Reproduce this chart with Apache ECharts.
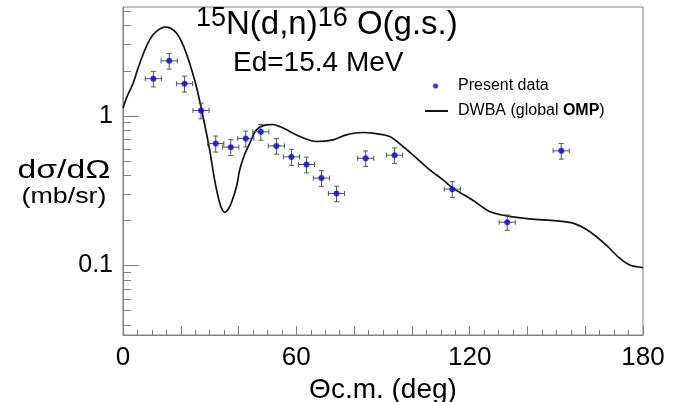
<!DOCTYPE html>
<html>
<head>
<meta charset="utf-8">
<script src="https://cdn.jsdelivr.net/npm/echarts@6/dist/echarts.min.js"></script>
<style>
  html, body { margin: 0; padding: 0; background: #fff; }
  #chart { width: 689px; height: 402px; }
</style>
</head>
<body>
<div id="chart"></div>
<script>
// Measured angular distribution, 15N(d,n)16O ground state, Ed = 15.4 MeV
const angles       = [10.5, 16.0, 21.3, 27.0, 32.1, 37.3, 42.5, 47.7, 53.1, 58.3, 63.5, 68.7, 73.9, 84.0, 94.0, 114.0, 133.0, 151.7];
const crossSection = [1.77, 2.33, 1.64, 1.085, 0.653, 0.618, 0.705, 0.782, 0.630, 0.532, 0.473, 0.384, 0.303, 0.521, 0.546, 0.324, 0.195, 0.584];
const angleErr     = [2.8, 2.8, 2.8, 2.8, 2.8, 2.8, 2.8, 2.8, 2.8, 2.8, 2.8, 2.8, 2.8, 2.8, 2.8, 2.8, 2.8, 2.8];
const sigmaErr     = [0.21, 0.28, 0.20, 0.13, 0.080, 0.075, 0.085, 0.095, 0.075, 0.065, 0.057, 0.046, 0.036, 0.062, 0.065, 0.039, 0.023, 0.070];

// DWBA calculation with a global optical-model potential
const dwbaAngles = [0, 1.5, 3.5, 5.2, 6.9, 8.6, 10.4, 12.5, 14.5, 16.5, 18.5, 20.2, 21.9, 23.7, 25.4, 27.7, 30.0, 31.7, 33.5, 34.6, 35.4, 36.3, 37.5, 39.3, 40.4, 42.0, 43.9, 46.2, 49.6, 51.9, 54.5, 56.6, 61.2, 66.9, 72.7, 77.3, 83.1, 86.5, 92.3, 96.9, 101.6, 106.2, 110.8, 114.2, 121.2, 126.9, 132.7, 140.8, 150.0, 155.8, 161.5, 167.3, 171.9, 175.4, 180.0];
const dwbaValues = [1.13, 1.36, 1.65, 2.08, 2.56, 3.05, 3.48, 3.78, 3.91, 3.84, 3.57, 3.15, 2.62, 2.05, 1.57, 0.99, 0.593, 0.374, 0.261, 0.232, 0.227, 0.236, 0.262, 0.337, 0.436, 0.545, 0.657, 0.806, 0.871, 0.875, 0.845, 0.806, 0.727, 0.674, 0.691, 0.746, 0.774, 0.766, 0.727, 0.624, 0.522, 0.436, 0.374, 0.329, 0.272, 0.230, 0.215, 0.205, 0.199, 0.192, 0.169, 0.137, 0.112, 0.101, 0.097];

// Axis ticks and labels
const xTickLabels = [0, 60, 120, 180];
const yTickLabels = [0.1, 1];
const yMinorTicks = [0.04, 0.05, 0.06, 0.07, 0.08, 0.09, 0.2, 0.3, 0.4, 0.5, 0.6, 0.7, 0.8, 0.9, 2, 3, 4, 5];

const FONT = "'Liberation Sans', Arial, Helvetica, sans-serif";
const FRAME = '#808080';
const Y_MIN = 0.0344, Y_MAX = 5.33;

const points = angles.map((a, i) => [a, crossSection[i], angleErr[i], sigmaErr[i]]);
const curve = dwbaAngles.map((a, i) => [a, dwbaValues[i]]);

const chart = echarts.init(document.getElementById('chart'), null, { renderer: 'canvas' });

chart.setOption({
  animation: false,
  backgroundColor: '#fff',
  textStyle: { fontFamily: FONT },
  title: [
    {
      left: 196, top: 5, padding: 0,
      text: '{s|15}{m|N(d,n)}{s|16}{m| O(g.s.)}',
      textStyle: {
        fontWeight: 'normal',
        rich: {
          m: { fontFamily: FONT, fontSize: 33, fontWeight: 'normal', lineHeight: 40, color: '#000' },
          s: { fontFamily: FONT, fontSize: 27, fontWeight: 'normal', lineHeight: 30, verticalAlign: 'top', color: '#000' }
        }
      }
    },
    {
      left: 233, top: 49, padding: 0,
      text: 'Ed=15.4 MeV',
      textStyle: { fontFamily: FONT, fontSize: 28, fontWeight: 'normal', color: '#000', lineHeight: 28 }
    }
  ],
  legend: [
    {
      left: 433, top: 78, padding: 0,
      itemWidth: 5, itemHeight: 5,
      data: [{ name: 'Present data', icon: 'circle' }],
      textStyle: { fontFamily: FONT, fontSize: 16, color: '#000', padding: [0, 0, 0, 15] },
      selectedMode: false
    },
    {
      left: 425, top: 103, padding: 0,
      itemWidth: 23, itemHeight: 2,
      data: [{ name: 'DWBA (global OMP)', icon: 'rect', itemStyle: { color: '#111' } }],
      formatter: () => '{n|DWBA (global }{b|OMP}{n|)}',
      textStyle: {
        fontFamily: FONT, fontSize: 16, color: '#000', padding: [0, 0, 0, 5],
        rich: {
          n: { fontFamily: FONT, fontSize: 16, color: '#000' },
          b: { fontFamily: FONT, fontSize: 16, fontWeight: 'bold', color: '#000' }
        }
      },
      selectedMode: false
    }
  ],
  grid: {
    left: 123, right: 46, top: 7, bottom: 67,
    outerBoundsMode: 'none',
    show: true, borderColor: FRAME, borderWidth: 1, backgroundColor: 'transparent'
  },
  xAxis: {
    type: 'value', min: 0, max: 180, interval: 20,
    name: 'Θc.m. (deg)', nameLocation: 'middle', nameGap: 36,
    nameTextStyle: { fontFamily: FONT, fontSize: 28, color: '#000' },
    axisLine: { show: true, lineStyle: { color: FRAME, width: 1 } },
    axisTick: { show: true, inside: true, length: 9, lineStyle: { color: FRAME } },
    minorTick: { show: true, splitNumber: 4, length: 5, lineStyle: { color: FRAME } },
    axisLabel: {
      customValues: xTickLabels,
      margin: 10, fontFamily: FONT, fontSize: 26, color: '#000'
    },
    splitLine: { show: false }
  },
  yAxis: [
    {
      type: 'log', logBase: 10, min: Y_MIN, max: Y_MAX, position: 'left',
      axisLine: { show: true, lineStyle: { color: FRAME, width: 1 } },
      axisTick: { show: true, inside: true, length: 16, customValues: yTickLabels, lineStyle: { color: FRAME } },
      axisLabel: {
        customValues: yTickLabels,
        formatter: v => String(+v.toPrecision(3)),
        margin: 10, fontFamily: FONT, fontSize: 25, color: '#000'
      },
      splitLine: { show: false }
    },
    {
      type: 'log', logBase: 10, min: Y_MIN, max: Y_MAX, position: 'left', offset: 0,
      axisLine: { show: false },
      axisTick: { show: true, inside: true, length: 8, customValues: yMinorTicks, lineStyle: { color: FRAME } },
      axisLabel: { show: false },
      splitLine: { show: false }
    }
  ],
  graphic: [
    {
      type: 'text', x: 64, y: 171, scaleX: 1.35,
      style: { text: 'dσ/dΩ', font: 'normal 25px ' + FONT, fill: '#000', align: 'center', verticalAlign: 'middle' }
    },
    {
      type: 'text', x: 64, y: 197, scaleX: 1.22,
      style: { text: '(mb/sr)', font: 'normal 22px ' + FONT, fill: '#000', align: 'center', verticalAlign: 'middle' }
    }
  ],
  series: [
    {
      name: 'DWBA (global OMP)',
      type: 'line',
      data: curve,
      yAxisIndex: 0,
      symbol: 'none',
      smooth: 0.3,
      lineStyle: { color: '#111', width: 1.7 },
      itemStyle: { color: '#111' },
      z: 3
    },
    {
      name: 'errors',
      type: 'custom',
      data: points,
      yAxisIndex: 0,
      encode: { x: 0, y: 1 },
      renderItem: (params, api) => {
        const x = api.value(0), y = api.value(1), ex = api.value(2), ey = api.value(3);
        const l = api.coord([x - ex, y]), r = api.coord([x + ex, y]);
        const t = api.coord([x, y + ey]), b = api.coord([x, y - ey]);
        const cap = 2.5;
        const st = { stroke: '#555', lineWidth: 1 };
        const seg = (x1, y1, x2, y2) => ({ type: 'line', shape: { x1, y1, x2, y2 }, style: st });
        return {
          type: 'group',
          children: [
            seg(l[0], l[1], r[0], r[1]),
            seg(l[0], l[1] - cap, l[0], l[1] + cap),
            seg(r[0], r[1] - cap, r[0], r[1] + cap),
            seg(t[0], t[1], b[0], b[1]),
            seg(t[0] - cap, t[1], t[0] + cap, t[1]),
            seg(b[0] - cap, b[1], b[0] + cap, b[1])
          ]
        };
      },
      z: 4
    },
    {
      name: 'Present data',
      type: 'scatter',
      data: points.map(p => [p[0], p[1]]),
      yAxisIndex: 0,
      symbol: 'circle',
      symbolSize: 6,
      itemStyle: { color: '#0000ff' },
      z: 5
    }
  ]
});
</script>
</body>
</html>
